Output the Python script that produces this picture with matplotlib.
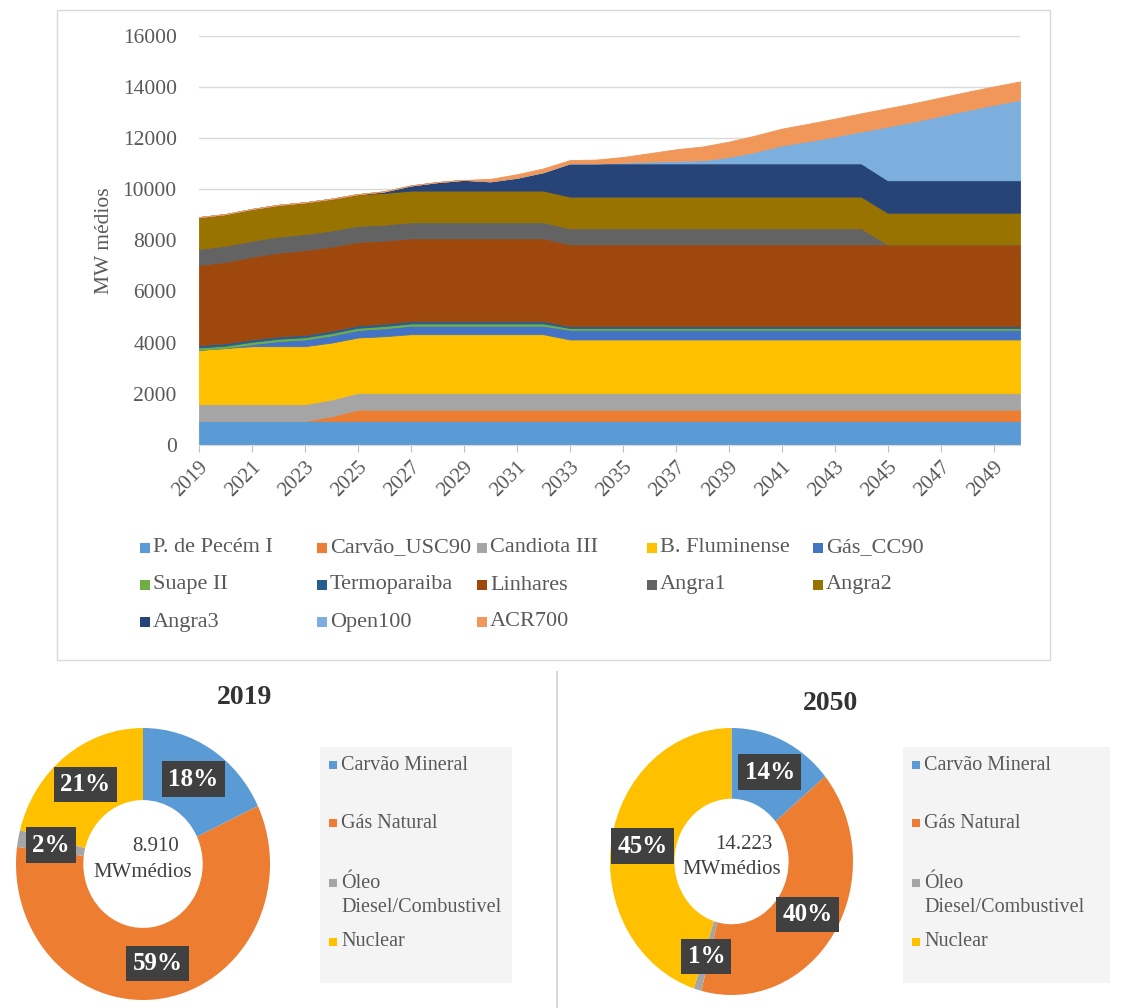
import matplotlib.pyplot as plt
from matplotlib.patches import Rectangle
from matplotlib.lines import Line2D

plt.rcParams['font.family'] = ['Liberation Serif', 'DejaVu Serif']

W, H = 1133, 1008

# Geração média por usina (MW médios), 2019-2050
anos = list(range(2019, 2051))
pecem_i = [935, 935, 935, 935, 935, 935, 935, 935, 935, 935, 935, 935, 935, 935, 935, 935,
           935, 935, 935, 935, 935, 935, 935, 935, 935, 935, 935, 935, 935, 935, 935, 935]
carvao_usc90 = [0, 0, 0, 0, 0, 180, 440, 440, 440, 440, 440, 440, 440, 440, 440, 440,
                440, 440, 440, 440, 440, 440, 440, 440, 440, 440, 440, 440, 440, 440, 440, 440]
candiota_iii = [655, 655, 655, 655, 655, 655, 655, 655, 655, 655, 655, 655, 655, 655, 655, 655,
                655, 655, 655, 655, 655, 655, 655, 655, 655, 655, 655, 655, 655, 655, 655, 655]
b_fluminense = [2130, 2200, 2270, 2270, 2270, 2230, 2170, 2220, 2300, 2300, 2300, 2300, 2300, 2300, 2092, 2092,
                2092, 2092, 2092, 2092, 2092, 2092, 2092, 2092, 2092, 2092, 2092, 2092, 2092, 2092, 2092, 2092]
gas_cc90 = [0, 0, 80, 200, 260, 280, 290, 310, 330, 330, 330, 330, 330, 330, 380, 380,
            380, 380, 380, 380, 380, 380, 380, 380, 380, 380, 380, 380, 380, 380, 380, 380]
suape_ii = [90, 90, 90, 90, 90, 90, 90, 90, 90, 90, 90, 90, 90, 90, 71, 71,
            71, 71, 71, 71, 71, 71, 71, 71, 71, 71, 71, 71, 71, 71, 71, 71]
termoparaiba = [89, 89, 89, 89, 89, 89, 89, 89, 89, 89, 89, 89, 89, 89, 71, 71,
                71, 71, 71, 71, 71, 71, 71, 71, 71, 71, 71, 71, 71, 71, 71, 71]
linhares = [3140, 3190, 3240, 3280, 3320, 3300, 3270, 3250, 3240, 3240, 3240, 3240, 3240, 3240, 3200, 3200,
            3200, 3200, 3200, 3200, 3200, 3200, 3200, 3200, 3200, 3200, 3200, 3200, 3200, 3200, 3200, 3200]
angra1 = [630, 630, 630, 630, 630, 630, 630, 630, 630, 630, 630, 630, 630, 630, 630, 630,
          630, 630, 630, 630, 630, 630, 630, 630, 630, 630, 0, 0, 0, 0, 0, 0]
angra2 = [1240, 1240, 1240, 1240, 1240, 1240, 1240, 1240, 1240, 1240, 1240, 1240, 1240, 1240, 1240, 1240,
          1240, 1240, 1240, 1240, 1240, 1240, 1240, 1240, 1240, 1240, 1240, 1240, 1240, 1240, 1240, 1240]
angra3 = [0, 0, 0, 0, 0, 0, 0, 60, 200, 330, 420, 360, 500, 720, 1300, 1300,
          1300, 1300, 1300, 1300, 1300, 1300, 1300, 1300, 1300, 1300, 1270, 1270, 1270, 1270, 1270, 1270]
open100 = [0, 0, 0, 0, 0, 0, 0, 0, 0, 0, 0, 0, 0, 0, 0, 0,
           30, 70, 100, 120, 250, 450, 700, 870, 1050, 1250, 2100, 2300, 2520, 2740, 2950, 3150]
acr700 = [0, 0, 0, 0, 0, 0, 0, 0, 0, 0, 0, 100, 140, 150, 130, 150,
          220, 330, 450, 540, 600, 640, 660, 680, 700, 710, 720, 720, 720, 720, 720, 720]

usinas = ['P. de Pecém I', 'Carvão_USC90', 'Candiota III', 'B. Fluminense', 'Gás_CC90',
          'Suape II', 'Termoparaiba', 'Linhares', 'Angra1', 'Angra2',
          'Angra3', 'Open100', 'ACR700']
series = [pecem_i, carvao_usc90, candiota_iii, b_fluminense, gas_cc90,
          suape_ii, termoparaiba, linhares, angra1, angra2,
          angra3, open100, acr700]
cores = ['#5b9bd5', '#ed7d31', '#a5a5a5', '#ffc000', '#4472c4',
         '#70ad47', '#255e91', '#9e480e', '#636363', '#997300',
         '#264478', '#7cafdd', '#f1975a']

# Participação por fonte nos anos extremos (%)
fontes = ['Carvão Mineral', 'Gás Natural', 'Óleo', 'Nuclear']
cores_fontes = ['#5b9bd5', '#ed7d31', '#a5a5a5', '#ffc000']
part_2019 = [18, 59, 2, 21]
part_2050 = [14, 40, 1, 45]

cinza_txt = '#595959'


def eixo_px(fig, x0, y0, x1, y1):
    return fig.add_axes([x0 / W, 1 - y1 / H, (x1 - x0) / W, (y1 - y0) / H])


fig = plt.figure(figsize=(W / 100, H / 100), dpi=100)

# moldura do gráfico de áreas
fig.patches.append(Rectangle((57 / W, 1 - 660 / H), (1050 - 57) / W, (660 - 10) / H,
                             transform=fig.transFigure, fill=False,
                             edgecolor='#d9d9d9', linewidth=1))

ax = eixo_px(fig, 199, 36, 1020, 444.8)
polys = ax.stackplot(anos, *series, colors=cores, linewidth=0.6)
for p in polys:
    p.set_edgecolor('face')

ax.set_xlim(2019, 2050)
ax.set_ylim(0, 16000)
ax.set_yticks(range(0, 16001, 2000))
ax.set_xticks(range(2019, 2050, 2))
ax.set_xticklabels([str(a) for a in range(2019, 2050, 2)], rotation=45,
                   ha='right', va='top', rotation_mode='anchor')
ax.tick_params(axis='y', length=0, pad=16, labelsize=15.5, labelcolor=cinza_txt)
ax.tick_params(axis='x', length=5, color='#bfbfbf', pad=4, labelsize=15, labelcolor=cinza_txt)
ax.grid(axis='y', color='#d9d9d9', linewidth=1)
ax.set_axisbelow(True)
for lado in ['left', 'right', 'top']:
    ax.spines[lado].set_visible(False)
ax.spines['bottom'].set_color('#d9d9d9')
ax.set_ylabel('MW médios', fontsize=15.5, color=cinza_txt, labelpad=6)

# legenda em 3 linhas x 5 colunas
col_x = [145, 322, 482, 652, 818]
lin_y = [548, 585, 622]
for i, (nome, cor) in enumerate(zip(usinas, cores)):
    x = col_x[i % 5]
    y = lin_y[i // 5]
    fig.patches.append(Rectangle(((x - 5) / W, 1 - (y + 5) / H), 10 / W, 10 / H,
                                 transform=fig.transFigure, facecolor=cor, edgecolor='none'))
    fig.text((x + 8) / W, 1 - y / H, nome, fontsize=16, color=cinza_txt, va='center')

# linha separadora entre as roscas
fig.add_artist(Line2D([557 / W, 557 / W], [0, 1 - 672 / H], transform=fig.transFigure,
                      color='#d9d9d9', linewidth=1.5))


def rosca(caixa, valores, titulo, tit_xy, total, leg_box):
    axp = eixo_px(fig, *caixa)
    wedges, _, pcts = axp.pie(valores, colors=cores_fontes, startangle=90, counterclock=False,
                              wedgeprops=dict(width=0.53, linewidth=0),
                              autopct=lambda p: f'{p:.0f}%', pctdistance=0.74)
    axp.set_aspect('auto')
    axp.set_xlim(-1, 1)
    axp.set_ylim(-1, 1)
    for t in pcts:
        t.set_fontsize(18)
        t.set_fontweight('bold')
        t.set_color('white')
        t.set_bbox(dict(boxstyle='square,pad=0.25', facecolor='#404040', edgecolor='none'))
    axp.text(0.1, 0.13, total, ha='center', va='center', fontsize=15, color='#404040')
    axp.text(0, -0.06, 'MWmédios', ha='center', va='center', fontsize=15, color='#404040')
    fig.text(tit_xy[0] / W, 1 - tit_xy[1] / H, titulo, ha='center', va='center',
             fontsize=20, fontweight='bold', color='#333333')

    # legenda da rosca
    x0, y0, x1, y1 = leg_box
    fig.patches.append(Rectangle((x0 / W, 1 - y1 / H), (x1 - x0) / W, (y1 - y0) / H,
                                 transform=fig.transFigure, facecolor='#f4f4f4', edgecolor='none'))
    mx = x0 + 13
    linhas_y = [765, 823, 883, 942]
    for nome, cor, y in zip(fontes, cores_fontes, linhas_y):
        fig.patches.append(Rectangle(((mx - 4) / W, 1 - (y + 4) / H), 8 / W, 8 / H,
                                     transform=fig.transFigure, facecolor=cor, edgecolor='none'))
        fig.text((mx + 8) / W, 1 - y / H, nome, fontsize=14.5, color=cinza_txt, va='center')
    fig.text((mx + 8) / W, 1 - 907 / H, 'Diesel/Combustivel', fontsize=14.5,
             color=cinza_txt, va='center')


rosca((16, 728, 270, 1000), part_2019, '2019', (245, 697), '8.910', (320, 747, 512, 983))
rosca((610, 728, 853, 995), part_2050, '2050', (831, 703), '14.223', (903, 747, 1110, 983))

fig.savefig('out.png', dpi=100)
